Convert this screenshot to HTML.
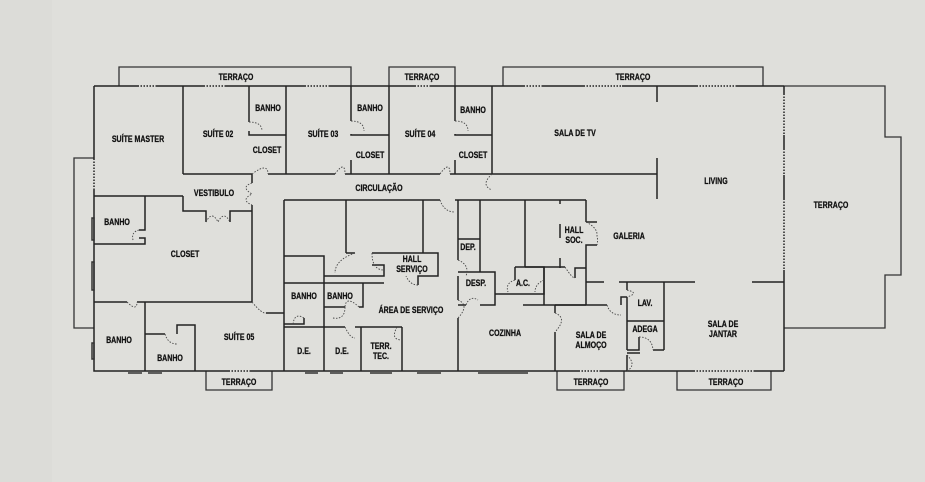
<!DOCTYPE html>
<html><head><meta charset="utf-8"><style>
html,body{margin:0;padding:0;background:#dfdfdb;}
svg{display:block}
text{font-family:"Liberation Sans Narrow","Liberation Sans",sans-serif;font-weight:bold;font-size:8.8px;fill:#111;stroke:#111;stroke-width:0.25;text-anchor:middle;transform-box:fill-box;transform-origin:center;transform:scaleX(0.8)}
.w{stroke:#222;stroke-width:1.5;fill:none}
.t{stroke:#333;stroke-width:1.3;fill:none}
.d{stroke:#444;stroke-width:0.9;fill:none;stroke-dasharray:1.5 1.5}
.win{stroke:#dfdfdb;stroke-width:2;stroke-dasharray:1.5 1.5}
</style></head><body>
<svg width="925" height="482" viewBox="0 0 925 482">
<rect x="0" y="0" width="52" height="482" fill="#dcdcd8"/>
<polyline class="t" points="119,86 119,67 351,67 351,86"/>
<polyline class="t" points="389,86 389,67 455,67 455,86"/>
<polyline class="t" points="503,86 503,67 763,67 763,86"/>
<polyline class="t" points="784,86 885,86 885,137 901,137 901,275 885,275 885,328 784,328"/>
<polyline class="t" points="94,158 74,158 74,328 94,328"/>
<polyline class="t" points="206,371 206,390 272,390 272,371"/>
<polyline class="t" points="557,371 557,390 624,390 624,371"/>
<polyline class="t" points="677,371 677,390 771,390 771,371"/>
<polyline class="w" points="94,86 784,86"/>
<polyline class="w" points="94,86 94,371 784,371"/>
<line class="w" x1="784" y1="86" x2="784" y2="371"/>
<line class="win" x1="784" y1="95" x2="784" y2="135"/>
<line class="win" x1="784" y1="150" x2="784" y2="175"/>
<line class="win" x1="784" y1="200" x2="784" y2="270"/>
<line class="win" x1="139" y1="86" x2="156" y2="86"/>
<line class="win" x1="205" y1="86" x2="225" y2="86"/>
<line class="win" x1="306" y1="86" x2="330" y2="86"/>
<line class="win" x1="416" y1="86" x2="430" y2="86"/>
<line class="win" x1="525" y1="86" x2="542" y2="86"/>
<line class="win" x1="585" y1="86" x2="622" y2="86"/>
<line class="win" x1="698" y1="86" x2="736" y2="86"/>
<line class="win" x1="94" y1="160" x2="94" y2="190"/>
<line class="win" x1="230" y1="371" x2="250" y2="371"/>
<line class="win" x1="580" y1="371" x2="600" y2="371"/>
<line class="win" x1="695" y1="371" x2="755" y2="371"/>
<g stroke="#333" stroke-width="1.5" fill="none">
<rect x="92" y="218" width="2" height="22"/><rect x="92" y="262" width="2" height="28"/><rect x="92" y="343" width="2" height="16"/>
<line x1="128" y1="373" x2="142" y2="373"/><line x1="148" y1="373" x2="162" y2="373"/>
<line x1="305" y1="373" x2="318" y2="373"/><line x1="330" y1="373" x2="343" y2="373"/>
<line x1="370" y1="373" x2="392" y2="373"/><line x1="417" y1="373" x2="441" y2="373"/>
<line x1="478" y1="373" x2="528" y2="373"/>
</g>
<g class="w">
<line x1="183" y1="86" x2="183" y2="174"/>
<polyline points="183,174 252,174"/><line x1="268" y1="174" x2="335" y2="174"/>
<line x1="345" y1="174" x2="440" y2="174"/><line x1="450" y1="174" x2="657" y2="174"/>
<line x1="249" y1="86" x2="249" y2="122"/>
<polyline points="249,131 249,135 286,135"/>
<line x1="286" y1="86" x2="286" y2="174"/>
<line x1="351" y1="86" x2="351" y2="121"/><polyline points="351,134 351,135 389,135"/>
<line x1="351" y1="160" x2="351" y2="174"/>
<line x1="389" y1="86" x2="389" y2="174"/>
<line x1="455" y1="86" x2="455" y2="121"/><polyline points="455,134 455,135 492,135"/>
<line x1="455" y1="160" x2="455" y2="174"/>
<line x1="492" y1="86" x2="492" y2="174"/>
<line x1="657" y1="86" x2="657" y2="102"/><line x1="657" y1="158" x2="657" y2="199"/>
<line x1="94" y1="196" x2="183" y2="196"/>
<polyline points="183,196 183,211 206,211 206,222"/>
<polyline points="230,222 230,211 252,211"/>
<line x1="252" y1="174" x2="252" y2="183"/><line x1="252" y1="205" x2="252" y2="302"/>
<polyline points="145,196 145,230 139,230"/><polyline points="139,238 145,238 145,244 94,244"/>
<line x1="94" y1="302" x2="127" y2="302"/><line x1="137" y1="302" x2="252" y2="302"/>
<polyline points="145,302 145,371"/>
<polyline points="145,334 165,334"/><polyline points="177,334 177,325 195,325 195,371"/>
<polyline points="266,313 284,313"/>
<line x1="284" y1="200" x2="284" y2="371"/>
<line x1="284" y1="200" x2="440" y2="200"/><line x1="455" y1="200" x2="458" y2="200"/>
<line x1="346" y1="200" x2="346" y2="253"/>
<line x1="423" y1="200" x2="423" y2="253"/>
<polyline points="284,256 324,256 324,283"/>
<polyline points="346,253 355,253"/><polyline points="372,253 438,253 438,276 418,276 418,285"/>
<polyline points="324,276 384,276 384,265 372,265"/>
<line x1="284" y1="283" x2="384" y2="283"/>
<polyline points="363,283 363,307 359,307"/>
<polyline points="324,283 324,327 284,327"/>
<polyline points="324,307 345,307"/>
<polyline points="304,318 304,324 284,324"/>
<polyline points="324,327 345,327"/><line x1="361" y1="327" x2="361" y2="371"/>
<polyline points="355,327 361,327"/><polyline points="361,327 397,327"/>
<polyline points="402,327 402,371"/><polyline points="402,327 397,327"/>
<line x1="324" y1="327" x2="324" y2="371"/>
<line x1="458" y1="200" x2="458" y2="260"/><line x1="458" y1="276" x2="458" y2="300"/><line x1="458" y1="318" x2="458" y2="371"/>
<line x1="458" y1="200" x2="586" y2="200"/>
<line x1="480" y1="200" x2="480" y2="272"/>
<line x1="458" y1="239" x2="480" y2="239"/>
<polyline points="458,272 495,272 495,305 480,305"/><line x1="458" y1="305" x2="466" y2="305"/>
<line x1="525" y1="200" x2="525" y2="267"/>
<polyline points="515,267 544,267 544,294 495,294"/>
<line x1="515" y1="267" x2="515" y2="280"/>
<line x1="560" y1="200" x2="560" y2="204"/><line x1="560" y1="224" x2="560" y2="238"/><line x1="560" y1="258" x2="560" y2="268"/>
<polyline points="525,267 565,267"/><polyline points="575,278 575,268 586,268"/>
<line x1="544" y1="267" x2="544" y2="305"/>
<line x1="523" y1="305" x2="586" y2="305"/>
<line x1="586" y1="200" x2="586" y2="222"/><polyline points="586,222 597,222"/><polyline points="597,245 586,245 586,305"/>
<polyline points="555,305 555,313"/><line x1="555" y1="332" x2="555" y2="371"/>
<line x1="555" y1="305" x2="607" y2="305"/><polyline points="621,305 621,297 627,297"/>
<line x1="586" y1="282" x2="604" y2="282"/><line x1="619" y1="282" x2="695" y2="282"/><line x1="752" y1="282" x2="784" y2="282"/>
<line x1="627" y1="282" x2="627" y2="290"/><line x1="627" y1="297" x2="627" y2="350"/><line x1="627" y1="355" x2="627" y2="371"/>
<line x1="664" y1="282" x2="664" y2="350"/>
<line x1="627" y1="321" x2="664" y2="321"/>
<polyline points="627,350 639,350 639,337"/><line x1="653" y1="350" x2="664" y2="350"/>
<line x1="627" y1="353" x2="640" y2="353"/>
</g>
<g class="d">
<path d="M249,122 Q262,122 262,131"/><path d="M351,121 Q364,121 364,131"/><path d="M455,121 Q468,121 468,131"/>
<path d="M252,174 Q268,162 268,174"/><path d="M335,174 Q345,160 345,174"/><path d="M440,174 Q450,160 450,174"/>
<path d="M252,183 Q240,187 252,194 Q240,200 252,205"/>
<path d="M206,222 Q212,210 218,222 Q224,210 230,222"/>
<path d="M139,230 Q131,232 133,240"/><path d="M127,302 Q137,312 137,302"/>
<path d="M165,334 Q168,344 177,344"/><path d="M252,302 Q262,314 266,313"/>
<path d="M440,200 Q444,212 455,212"/><path d="M492,174 Q480,185 492,190"/>
<path d="M355,253 Q335,260 335,273"/><path d="M372,253 Q372,270 384,270"/>
<path d="M418,285 Q410,285 406,276"/><path d="M359,307 Q346,295 345,307"/>
<path d="M304,318 Q294,312 293,325"/><path d="M345,307 Q345,320 333,318"/>
<path d="M345,327 Q350,338 355,338"/><path d="M397,327 Q390,340 402,340"/>
<path d="M458,260 Q470,265 466,276"/><path d="M466,305 Q470,295 478,300"/>
<path d="M458,300 Q470,305 458,318"/><path d="M515,280 Q505,283 508,292"/>
<path d="M544,280 Q535,284 535,292"/><path d="M565,267 Q572,278 575,278"/>
<path d="M586,222 Q598,228 597,236 Q598,240 597,245"/>
<path d="M555,313 Q568,318 555,332"/><path d="M607,305 Q610,315 621,315"/>
<path d="M627,290 Q640,293 627,297"/><path d="M639,337 Q652,337 653,350"/>
<path d="M627,355 Q637,365 627,371"/>
</g>
<text x="236" y="80">TERRAÇO</text><text x="422" y="80">TERRAÇO</text><text x="633" y="80">TERRAÇO</text>
<text x="138" y="142">SUÍTE MASTER</text><text x="218" y="137">SUÍTE 02</text><text x="268" y="111">BANHO</text>
<text x="267" y="153">CLOSET</text><text x="323" y="137">SUÍTE 03</text><text x="370" y="111">BANHO</text>
<text x="370" y="158">CLOSET</text><text x="420" y="137">SUÍTE 04</text><text x="473" y="113">BANHO</text>
<text x="473" y="158">CLOSET</text><text x="575" y="136">SALA DE TV</text><text x="379" y="191">CIRCULAÇÃO</text>
<text x="214" y="196">VESTIBULO</text><text x="716" y="184">LIVING</text><text x="831" y="208">TERRAÇO</text>
<text x="117" y="225">BANHO</text><text x="185" y="257">CLOSET</text>
<text x="574" y="233">HALL</text><text x="574" y="243">SOC.</text><text x="629" y="239">GALERIA</text>
<text x="468" y="250">DEP.</text><text x="412" y="262">HALL</text><text x="412" y="272">SERVIÇO</text>
<text x="304" y="299">BANHO</text><text x="340" y="299">BANHO</text><text x="476" y="286">DESP.</text><text x="523" y="286">A.C.</text>
<text x="411" y="313">ÁREA DE SERVIÇO</text><text x="645" y="306">LAV.</text><text x="505" y="336">COZINHA</text>
<text x="645" y="332">ADEGA</text><text x="591" y="338">SALA DE</text><text x="591" y="348">ALMOÇO</text>
<text x="723" y="327">SALA DE</text><text x="723" y="337">JANTAR</text>
<text x="119" y="343">BANHO</text><text x="170" y="361">BANHO</text><text x="239" y="340">SUÍTE 05</text>
<text x="304" y="354">D.E.</text><text x="342" y="354">D.E.</text><text x="381" y="349">TERR.</text><text x="381" y="359">TEC.</text>
<text x="239" y="385">TERRAÇO</text><text x="591" y="385">TERRAÇO</text><text x="726" y="385">TERRAÇO</text>
</svg>
</body></html>
